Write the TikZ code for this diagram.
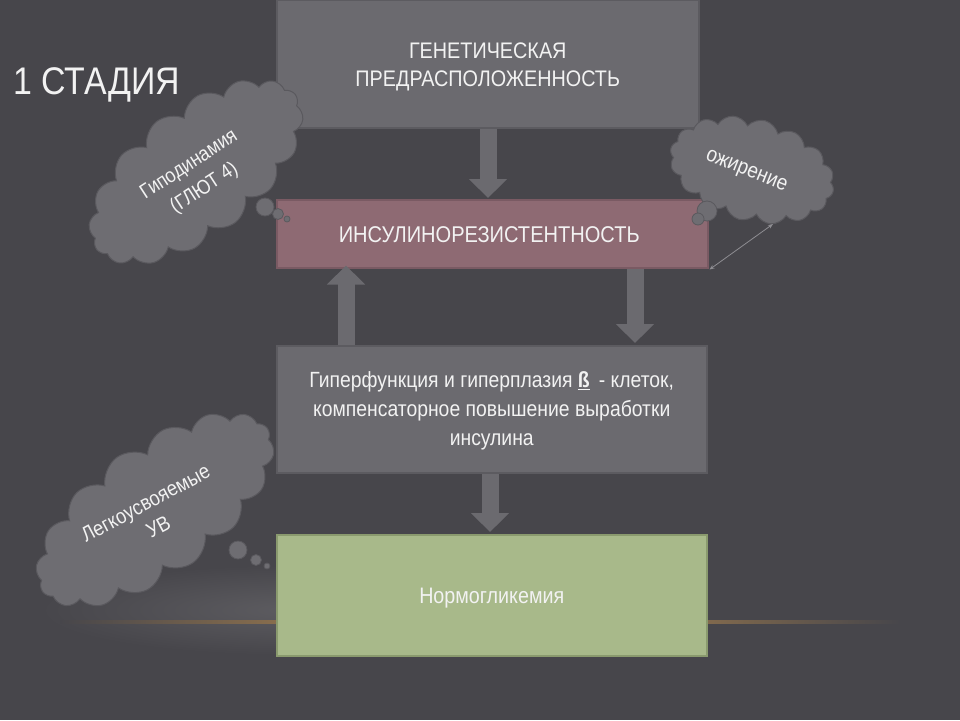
\documentclass[tikz,border=0pt]{standalone}
\usepackage{fontspec}
\setmainfont[FakeStretch=0.88]{Liberation Sans}
\usetikzlibrary{shapes.symbols,arrows.meta,calc}
\definecolor{bg}{HTML}{47464B}
\definecolor{boxgray}{HTML}{6B6A6F}
\definecolor{boxedge}{HTML}{5C5B60}
\definecolor{rose}{HTML}{8E6A73}
\definecolor{roseedge}{HTML}{7A5A63}
\definecolor{sage}{HTML}{A8B98A}
\definecolor{sageedge}{HTML}{8A9A6E}
\definecolor{cloudfill}{HTML}{6E6D72}
\definecolor{cloudedge}{HTML}{5A595E}
\definecolor{glow}{HTML}{C4924F}
\definecolor{thinline}{HTML}{8E8D92}
\definecolor{txt}{HTML}{F2F2F2}
\tikzset{
  box/.style={rectangle, anchor=north west, line width=1.5pt, inner sep=0pt},
  boxtext/.style={text=txt, align=center, inner sep=0pt},
  blockarrow/.style={line width=17pt, draw=boxgray, -{Triangle[width=37pt,length=19pt]}},
  thinarrow/.style={line width=0.8pt, draw=thinline, {Stealth[length=5pt,width=4pt]}-{Stealth[length=5pt,width=4pt]}},
  cloudsty/.style={cloud, cloud puffs=16, cloud puff arc=125, cloud ignores aspect, fill=cloudfill, draw=cloudedge, line width=1pt, inner sep=0pt},
  cloudtext/.style={text=txt, align=center, inner sep=0pt},
  bubble/.style={fill=cloudfill, draw=cloudedge, line width=0.8pt}
}
\begin{document}
\begin{tikzpicture}[x=1pt,y=-1pt]
\fill[bg] (0,0) rectangle (960,720);
\useasboundingbox (0,0) rectangle (960,720);
% glow
\shade[inner color=bg!88!white, outer color=bg] (300,610) ellipse [x radius=260, y radius=45];
\shade[left color=bg, right color=bg, middle color=glow] (60,620.5) rectangle (900,623.5);
% title
\node[anchor=west, inner sep=0pt, text=txt, font=\fontsize{38.5}{40}\selectfont] (title) at (13,85) {1 СТАДИЯ};
% boxes
\node[box, fill=boxgray, draw=boxedge, minimum width=422pt, minimum height=128pt] (b1) at (276,-1) {};
\node[boxtext, font=\fontsize{22.5}{28}\selectfont] (t1) at ($(b1.center)+(0,3)$) {ГЕНЕТИЧЕСКАЯ\\ПРЕДРАСПОЛОЖЕННОСТЬ};
\node[box, fill=rose, draw=roseedge, minimum width=431pt, minimum height=68pt] (b2) at (276,199) {};
\node[boxtext, font=\fontsize{22.8}{29}\selectfont] (t2) at ($(b2.center)+(-3,1)$) {ИНСУЛИНОРЕЗИСТЕНТНОСТЬ};
\node[box, fill=boxgray, draw=boxedge, minimum width=430pt, minimum height=127pt] (b3) at (276,345) {};
\node[boxtext, font=\fontsize{22}{29}\selectfont] (t3) at ($(b3.center)+(0,2)$) {Гиперфункция и гиперплазия \underline{\textbf{ß}} \,- клеток,\\компенсаторное повышение выработки\\инсулина};
\node[box, fill=sage, draw=sageedge, minimum width=430pt, minimum height=121pt] (b4) at (276,534) {};
\node[boxtext, font=\fontsize{22.4}{29}\selectfont] (t4) at ($(b4.center)+(0,3)$) {Нормогликемия};
% block arrows
\draw[blockarrow] ($(b1.south west)+(212,0)$) -- ($(b2.north west)+(212,-1)$);
\draw[blockarrow] ($(b3.north west)+(70,0)$) -- ($(b2.south west)+(70,-3)$);
\draw[blockarrow] ($(b2.south west)+(359,0)$) -- ($(b3.north west)+(359,-2)$);
\draw[blockarrow] ($(b3.south west)+(214,0)$) -- ($(b4.north west)+(214,-2)$);
% clouds
\node[cloudsty, minimum width=252pt, minimum height=128pt, rotate=38] (c1) at (196,172) {};
\node[cloudtext, rotate=33, font=\fontsize{20.5}{28}\selectfont] (c1t) at (197,177) {Гиподинамия\\(ГЛЮТ 4)};
\filldraw[bubble] (265,207) circle [radius=9];
\filldraw[bubble] (278,214) circle [radius=5.5];
\filldraw[bubble] (287,219) circle [radius=3];
\node[cloudsty, minimum width=168pt, minimum height=102pt, rotate=-15] (c2) at (752,170) {};
\node[cloudtext, rotate=-22, font=\fontsize{21.5}{26}\selectfont] (c2t) at (746,172) {ожирение};
\filldraw[bubble] (707,211) circle [radius=10];
\filldraw[bubble] (698,219) circle [radius=6];
\node[cloudsty, minimum width=278pt, minimum height=130pt, rotate=36] (c3) at (155,510) {};
\node[cloudtext, rotate=28, font=\fontsize{21}{27}\selectfont] (c3t) at (152,515) {Легкоусвояемые\\УВ};
\filldraw[bubble] (238,550) circle [radius=9];
\filldraw[bubble] (256,560) circle [radius=5.5];
\filldraw[bubble] (267,566) circle [radius=3];
% thin double arrow
\coordinate (c2end) at (773,224);
\draw[thinarrow] ($(b2.south east)+(1,1)$) -- (c2end);
\end{tikzpicture}
\end{document}
